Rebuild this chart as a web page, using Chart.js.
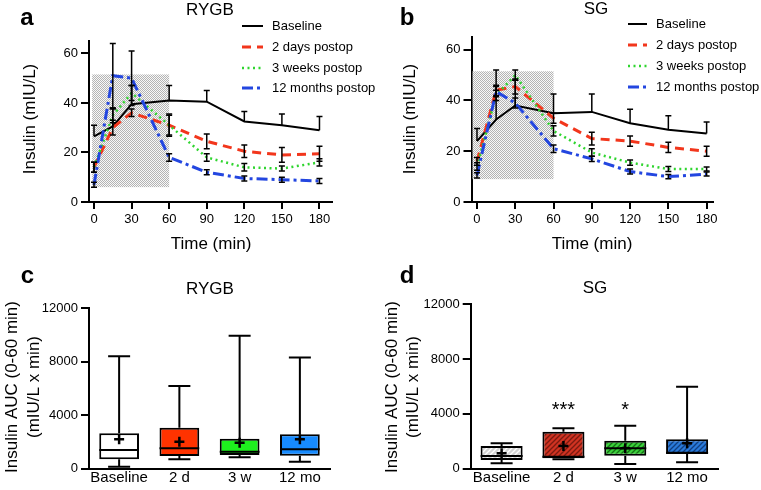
<!DOCTYPE html>
<html>
<head>
<meta charset="utf-8">
<script src="https://cdn.jsdelivr.net/npm/chart.js@4.4.1/dist/chart.umd.min.js"></script>
<style>
  html, body { margin:0; padding:0; background:#fff; }
  body { width:761px; height:490px; position:relative; overflow:hidden; }
  canvas { position:absolute; }
</style>
</head>
<body>
<canvas id="panelA" width="380" height="255" style="left:0;top:0;"></canvas>
<canvas id="panelB" width="381" height="255" style="left:380px;top:0;"></canvas>
<canvas id="panelC" width="380" height="240" style="left:0;top:250px;"></canvas>
<canvas id="panelD" width="381" height="240" style="left:380px;top:250px;"></canvas>
<script>
/* ---------- data ---------- */
const times = [0, 15, 30, 60, 90, 120, 150, 180];
const timeTicks = [0, 30, 60, 90, 120, 150, 180];
const insulinTicks = [0, 20, 40, 60];
const seriesLabels = ["Baseline", "2 days postop", "3 weeks postop", "12 months postop"];

// RYGB insulin (mIU/L)
const rygbBaseline = [26.5, 30.5, 39.5, 41, 40.5, 32.5, 31, 29];
const rygb2d       = [14, 30, 36, 31, 24.5, 20.5, 19, 19.5];
const rygb3w       = [14, 35, 44, 31, 18, 14, 13.5, 16];
const rygb12m      = [7, 51, 50, 18, 12, 9.5, 9, 8.5];
const rygbBaselineErr = [4.5, 7, 7.5, 6, 4.5, 4, 4.5, 5.5];
const rygb2dErr       = [2, 3, 1.5, 4.5, 3, 2.5, 3, 3];
const rygb3wErr       = [2, 3, 3, 4, 1.5, 1.5, 1, 1.5];
const rygb12mErr      = [1, 13, 11, 1.5, 1, 1, 1, 1];

// SG insulin (mIU/L)
const sgBaseline = [24, 32.5, 38, 35, 35.5, 31, 28.5, 27];
const sg2d       = [16, 44, 45.5, 33, 25, 24, 21.5, 20];
const sg3w       = [14, 42, 50, 28, 19.5, 15.5, 13, 13];
const sg12m      = [10.5, 43.5, 39, 21, 17, 12, 10, 11];
const sgBaselineErr = [5, 19.5, 10, 7.5, 7, 5.5, 5.5, 4.5];
const sg2dErr       = [1.5, 2, 3, 2, 2.5, 2, 2, 2];
const sg3wErr       = [1.5, 2, 2, 2, 1.5, 1, 1, 0.8];
const sg12mErr      = [1, 2, 2, 1.5, 1, 1, 0.8, 0.8];

// AUC box plots (mIU/L x min)
const boxCategories = ["Baseline", "2 d", "3 w", "12 mo"];
const aucTicks = [0, 4000, 8000, 12000];
const rygbMin    = [150, 700, 850, 525];
const rygbQ1     = [700, 950, 1025, 970];
const rygbMedian = [1400, 1525, 1270, 1450];
const rygbQ3     = [2650, 3070, 2245, 2570];
const rygbMax    = [8410, 6190, 9950, 8310];
const rygbMean   = [2200, 2020, 1950, 2200];

const sgMin    = [390, 690, 340, 465];
const sgQ1     = [635, 760, 950, 1070];
const sgMedian = [925, 875, 1490, 1170];
const sgQ3     = [1657, 2700, 2045, 2145];
const sgMax    = [1850, 2950, 3140, 5990];
const sgMean   = [1120, 1660, 1500, 1850];
const sgStars  = ["", "***", "*", ""];

/* ---------- style ---------- */
const FONT = '"Liberation Sans", Arial, Helvetica, sans-serif';
Chart.defaults.font.family = FONT;
Chart.defaults.color = "#000";

const lineColors = ["#000000", "#f2361c", "#2fd52f", "#2346e0"];
const lineDash   = [[], [9, 6], [2, 3.5], [11, 4, 3, 4]];
const lineWidth  = [2, 3, 2.5, 3];

function stipple(ctx){
  const c = document.createElement("canvas"); c.width = 2; c.height = 2;
  const g = c.getContext("2d");
  g.fillStyle = "#f8f8f8"; g.fillRect(0,0,2,2);
  g.fillStyle = "#b4b4b4"; g.fillRect(0,0,1,1); g.fillRect(1,1,1,1);
  return ctx.createPattern(c, "repeat");
}
function hatch(ctx, base, stripe){
  const c = document.createElement("canvas"); c.width = 5; c.height = 5;
  const g = c.getContext("2d");
  g.fillStyle = base; g.fillRect(0,0,5,5);
  g.strokeStyle = stripe; g.lineWidth = 1.3;
  g.beginPath();
  g.moveTo(0,5); g.lineTo(5,0);
  g.moveTo(-1,1); g.lineTo(1,-1);
  g.moveTo(4,6); g.lineTo(6,4);
  g.stroke();
  return ctx.createPattern(c, "repeat");
}

function text(ctx, str, x, y, font, align, base, rot){
  ctx.save();
  ctx.font = font;
  ctx.fillStyle = "#000";
  ctx.textAlign = align || "center";
  ctx.textBaseline = base || "middle";
  ctx.translate(x, y);
  if (rot) ctx.rotate(rot);
  ctx.fillText(str, 0, 0);
  ctx.restore();
}

const axisX = (geom, H, ticks, extra) => Object.assign({
  afterFit: s => { s.height = H - geom.bottom; },
  grid: { display:true, drawOnChartArea:false, drawTicks:true, tickLength:7, color:"#000", lineWidth:2 },
  border: { display:true, color:"#000", width:2 },
  ticks: { font:{ size:13 }, padding:3, maxRotation:0, autoSkip:false, color:"#000", callback: v => String(v) },
  afterBuildTicks: s => { s.ticks = ticks.map(v => ({ value:v })); }
}, extra);
const axisY = (geom, ticks, extra) => Object.assign({
  afterFit: s => { s.width = geom.left; },
  grid: { display:true, drawOnChartArea:false, drawTicks:true, tickLength:8, color:"#000", lineWidth:2 },
  border: { display:true, color:"#000", width:2 },
  ticks: { font:{ size:13 }, padding:3, color:"#000", callback: v => String(v) },
  afterBuildTicks: s => { s.ticks = ticks.map(v => ({ value:v })); }
}, extra);

/* ---------- time course panels ---------- */
function linePanel(id, g, series, errs){
  const canvas = document.getElementById(id);
  const W = canvas.width, H = canvas.height;
  const shadeFill = stipple(canvas.getContext("2d"));

  const decor = {
    id: "decor_" + id,
    beforeDatasetsDraw(chart){
      const {ctx, scales:{x, y}} = chart;
      const x0 = x.getPixelForValue(g.shade[0]), x1 = x.getPixelForValue(g.shade[1]);
      const y0 = y.getPixelForValue(g.shade[3]), y1 = y.getPixelForValue(g.shade[2]);
      ctx.save();
      ctx.fillStyle = shadeFill;
      ctx.fillRect(x0, y0, x1 - x0, y1 - y0);
      ctx.restore();
    },
    afterDatasetsDraw(chart){
      const {ctx, scales:{x, y}} = chart;
      ctx.save();
      ctx.strokeStyle = "#000";
      ctx.lineWidth = 1.5;
      series.forEach((vals, i) => {
        vals.forEach((v, k) => {
          const px = x.getPixelForValue(times[k]);
          const top = y.getPixelForValue(v + errs[i][k]);
          const bot = i === 0 ? y.getPixelForValue(v) : y.getPixelForValue(v - errs[i][k]);
          ctx.beginPath();
          ctx.moveTo(px, top); ctx.lineTo(px, bot);
          ctx.moveTo(px - 3, top); ctx.lineTo(px + 3, top);
          if (i > 0) { ctx.moveTo(px - 3, bot); ctx.lineTo(px + 3, bot); }
          ctx.stroke();
        });
      });
      ctx.restore();
    },
    afterDraw(chart){
      const ctx = chart.ctx;
      text(ctx, g.letter, g.letterX, g.letterY, "bold 24px " + FONT, "center", "alphabetic");
      text(ctx, g.title, g.titleX, g.titleY, "17px " + FONT);
      text(ctx, "Insulin (mIU/L)", g.yTitleX, g.yTitleY, "17px " + FONT, "center", "middle", -Math.PI/2);
      text(ctx, "Time (min)", g.xTitleX, g.xTitleY, "17px " + FONT);
      seriesLabels.forEach((lab, i) => {
        const ly = g.legendRows[i];
        ctx.save();
        ctx.strokeStyle = lineColors[i];
        ctx.lineWidth = lineWidth[i];
        ctx.setLineDash(lineDash[i]);
        ctx.beginPath();
        ctx.moveTo(g.legendLine[0], ly); ctx.lineTo(g.legendLine[1], ly);
        ctx.stroke();
        ctx.restore();
        text(ctx, lab, g.legendText, ly, "13px " + FONT, "left", "middle");
      });
    }
  };

  new Chart(canvas, {
    type: "line",
    data: {
      datasets: series.map((vals, i) => ({
        label: seriesLabels[i],
        data: times.map((t, k) => ({ x:t, y:vals[k] })),
        borderColor: lineColors[i],
        borderDash: lineDash[i],
        borderWidth: lineWidth[i],
        pointRadius: 0,
        tension: 0,
        fill: false
      })).reverse()
    },
    options: {
      responsive: false,
      animation: false,
      layout: { padding: { top:g.top, right:W - g.right, left:0, bottom:0 } },
      plugins: { legend:{ display:false }, tooltip:{ enabled:false } },
      scales: {
        x: axisX(g, H, timeTicks, { type:"linear", min:g.xMin, max:g.xMax }),
        y: axisY(g, insulinTicks, { min:0, max:65 })
      }
    },
    plugins: [decor]
  });
}

linePanel("panelA", {
  left:89, right:332, top:41, bottom:202, xMin:-4, xMax:190,
  shade:[-1.5, 60, 6, 51.5],
  letter:"a", letterX:27, letterY:25,
  title:"RYGB", titleX:210, titleY:10,
  yTitleX:30, yTitleY:119, xTitleX:211, xTitleY:244,
  legendLine:[242, 263], legendText:272, legendRows:[26, 47, 68, 88]
}, [rygbBaseline, rygb2d, rygb3w, rygb12m], [rygbBaselineErr, rygb2dErr, rygb3wErr, rygb12mErr]);

linePanel("panelB", {
  left:91.5, right:333, top:37, bottom:202, xMin:-4.3, xMax:185,
  shade:[-3.5, 60, 9, 51.5],
  letter:"b", letterX:27, letterY:25,
  title:"SG", titleX:216, titleY:9,
  yTitleX:30, yTitleY:119, xTitleX:212, xTitleY:244,
  legendLine:[248, 267], legendText:276, legendRows:[24, 45, 66, 87]
}, [sgBaseline, sg2d, sg3w, sg12m], [sgBaselineErr, sg2dErr, sg3wErr, sg12mErr]);

/* ---------- AUC box plot panels ---------- */
function boxPanel(id, g, mins, q1, med, q3, maxs, means, fills, stars){
  const canvas = document.getElementById(id);
  const W = canvas.width, H = canvas.height;
  const ctx0 = canvas.getContext("2d");
  const bg = fills.map(f => f.stripe ? hatch(ctx0, f.base, f.stripe) : f.base);

  const decor = {
    id: "decor_" + id,
    beforeDatasetsDraw(chart){
      const {ctx, scales:{y}} = chart;
      const bars = chart.getDatasetMeta(0).data;
      ctx.save();
      ctx.strokeStyle = "#000";
      ctx.lineWidth = 2;
      bars.forEach((b, k) => {
        ctx.beginPath();
        ctx.moveTo(b.x, y.getPixelForValue(maxs[k])); ctx.lineTo(b.x, y.getPixelForValue(q3[k]));
        ctx.moveTo(b.x, y.getPixelForValue(q1[k])); ctx.lineTo(b.x, y.getPixelForValue(mins[k]));
        ctx.moveTo(b.x - 11, y.getPixelForValue(maxs[k])); ctx.lineTo(b.x + 11, y.getPixelForValue(maxs[k]));
        ctx.moveTo(b.x - 11, y.getPixelForValue(mins[k])); ctx.lineTo(b.x + 11, y.getPixelForValue(mins[k]));
        ctx.stroke();
      });
      ctx.restore();
    },
    afterDatasetsDraw(chart){
      const {ctx, scales:{y}} = chart;
      const bars = chart.getDatasetMeta(0).data;
      ctx.save();
      ctx.strokeStyle = "#000";
      bars.forEach((b, k) => {
        const my = y.getPixelForValue(med[k]);
        ctx.lineWidth = 2;
        ctx.beginPath();
        ctx.moveTo(b.x - b.width/2, my); ctx.lineTo(b.x + b.width/2, my);
        ctx.stroke();
        const ay = y.getPixelForValue(means[k]);
        ctx.lineWidth = 2.5;
        ctx.beginPath();
        ctx.moveTo(b.x - 5, ay); ctx.lineTo(b.x + 5, ay);
        ctx.moveTo(b.x, ay - 5); ctx.lineTo(b.x, ay + 5);
        ctx.stroke();
        if (stars && stars[k]) text(ctx, stars[k], b.x, g.starY, "20px " + FONT);
      });
      ctx.restore();
    },
    afterDraw(chart){
      const ctx = chart.ctx;
      text(ctx, g.letter, g.letterX, g.letterY, "bold 24px " + FONT, "center", "alphabetic");
      text(ctx, g.title, g.titleX, g.titleY, "17px " + FONT);
      text(ctx, "Insulin AUC (0-60 min)", g.yTitleX[0], g.yTitleY, "17px " + FONT, "center", "middle", -Math.PI/2);
      text(ctx, "(mIU/L x min)", g.yTitleX[1], g.yTitleY, "17px " + FONT, "center", "middle", -Math.PI/2);
    }
  };

  new Chart(canvas, {
    type: "bar",
    data: {
      labels: boxCategories,
      datasets: [{
        data: q1.map((v, k) => [v, q3[k]]),
        backgroundColor: bg,
        borderColor: "#000",
        borderWidth: 2,
        borderSkipped: false,
        barPercentage: g.barPct,
        categoryPercentage: 1
      }]
    },
    options: {
      responsive: false,
      animation: false,
      layout: { padding: { top:g.top, right:W - g.right, left:0, bottom:0 } },
      plugins: { legend:{ display:false }, tooltip:{ enabled:false } },
      scales: {
        x: {
          afterFit: s => { s.height = H - g.bottom; },
          grid: { display:false },
          border: { display:true, color:"#000", width:2 },
          ticks: { font:{ size:15 }, padding:-8, color:"#000", maxRotation:0, autoSkip:false }
        },
        y: axisY(g, aucTicks, { min:0, max:12000 })
      }
    },
    plugins: [decor]
  });
}

boxPanel("panelC", {
  left:89, right:330, top:58.3, bottom:218.7, barPct:0.66,
  letter:"c", letterX:27.5, letterY:32.5,
  title:"RYGB", titleX:210, titleY:39,
  yTitleX:[12, 34], yTitleY:137
}, rygbMin, rygbQ1, rygbMedian, rygbQ3, rygbMax, rygbMean,
[{ base:"#ffffff" }, { base:"#ff3300" }, { base:"#1ef01e" }, { base:"#178bff" }], null);

boxPanel("panelD", {
  left:90.7, right:338, top:54.3, bottom:218.7, barPct:0.68,
  letter:"d", letterX:27, letterY:33,
  title:"SG", titleX:215, titleY:38,
  yTitleX:[12, 33], yTitleY:137, starY:160
}, sgMin, sgQ1, sgMedian, sgQ3, sgMax, sgMean,
[{ base:"#d4d4d4", stripe:"#ffffff" }, { base:"#d03322", stripe:"#7a1a10" },
 { base:"#3ad03a", stripe:"#157015" }, { base:"#2a7ada", stripe:"#103f80" }], sgStars);
</script>
</body>
</html>
